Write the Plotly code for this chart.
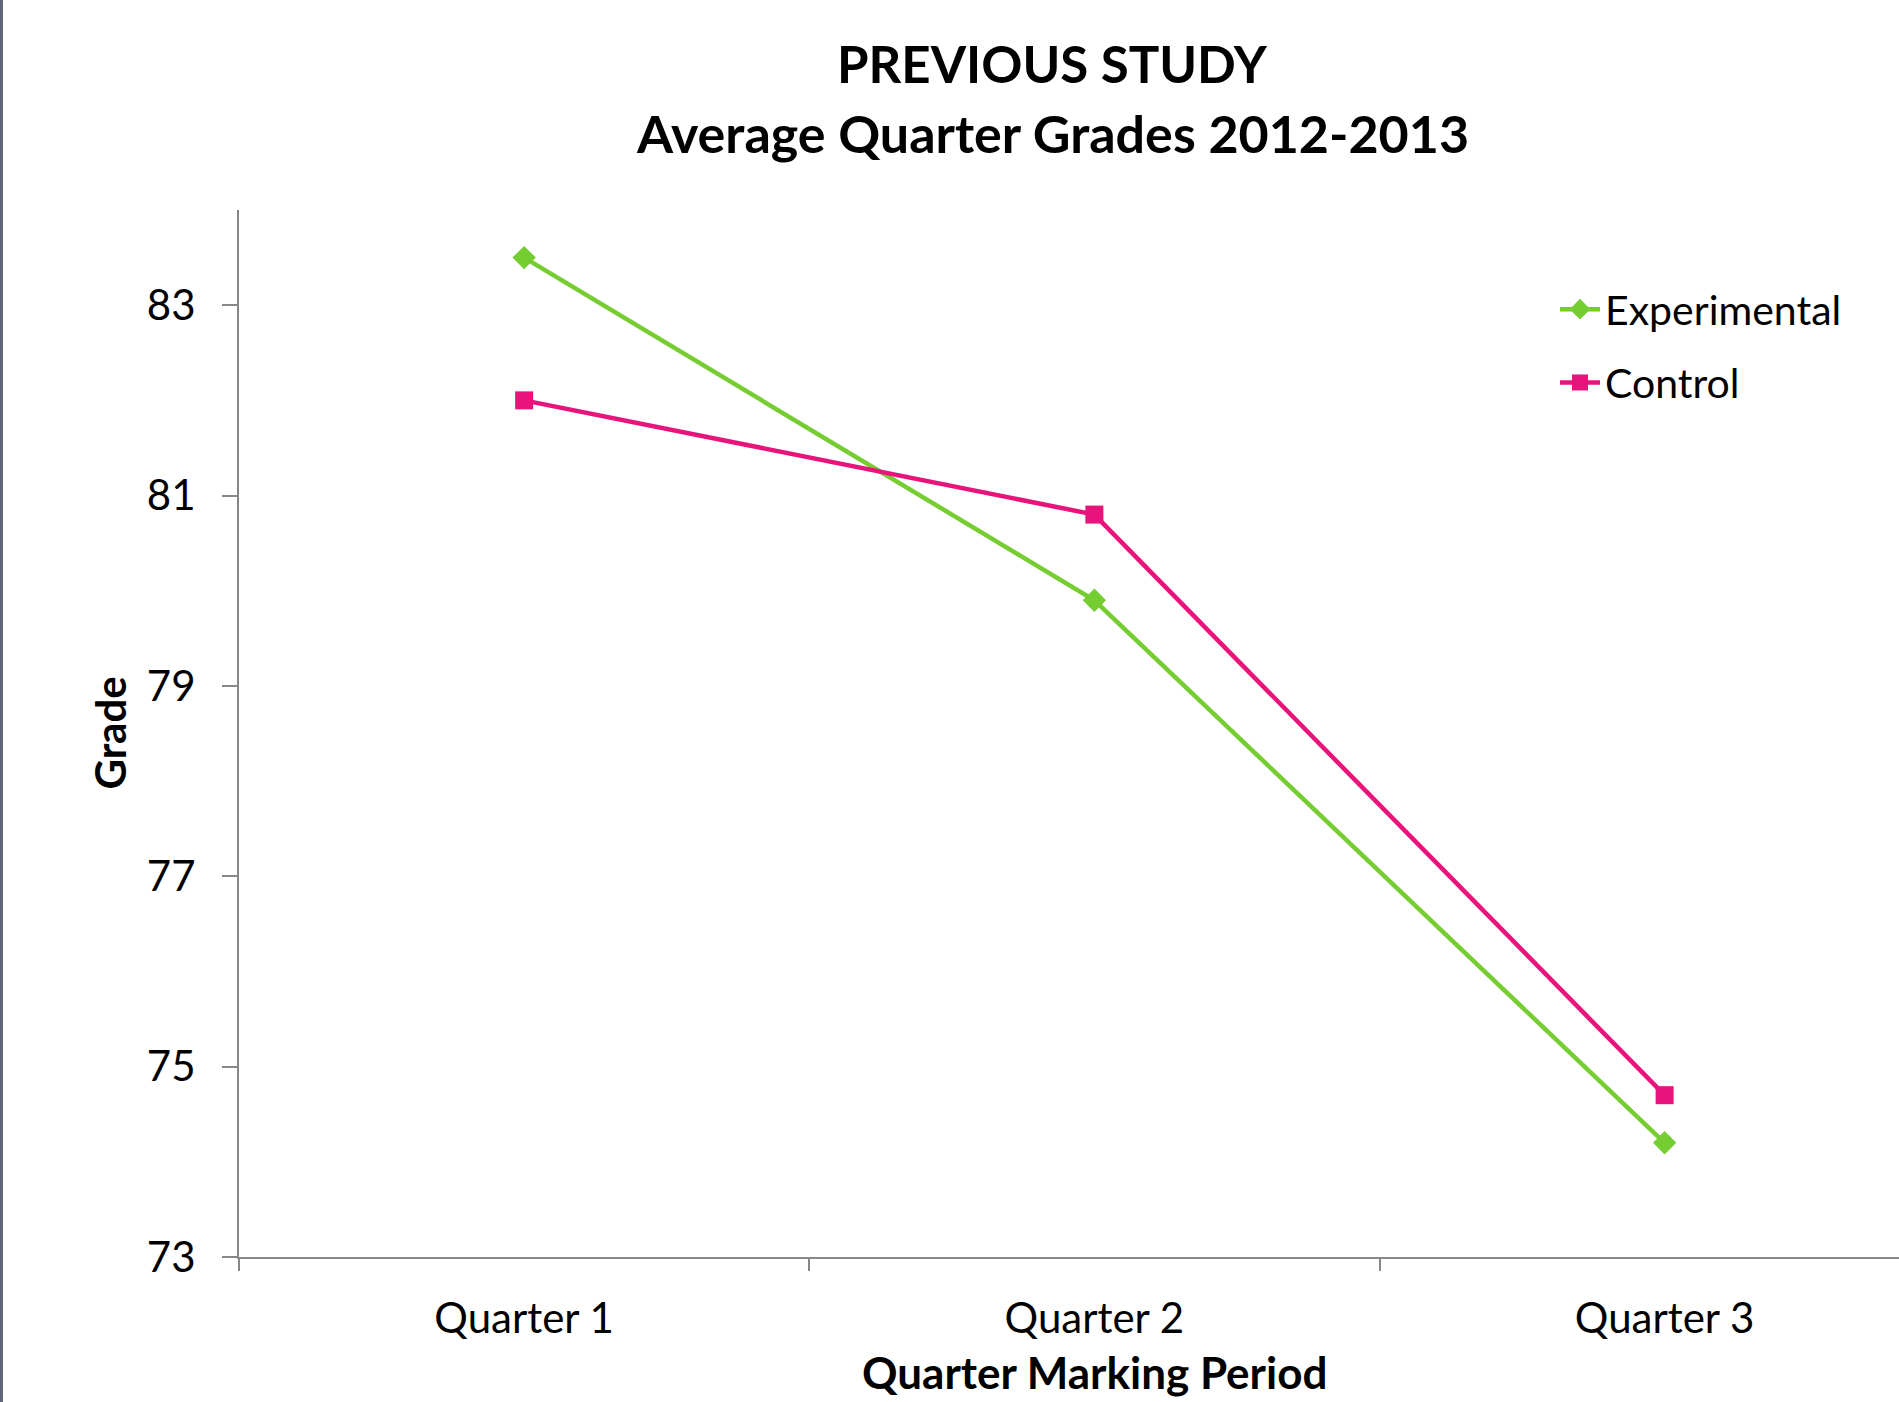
import plotly.graph_objects as go

# Average quarter grades, 2012-2013
quarters = ["Quarter 1", "Quarter 2", "Quarter 3"]
experimental = [83.5, 79.9, 74.2]
control = [82.0, 80.8, 74.7]
y_ticks = [73, 75, 77, 79, 81, 83]

GREEN = "#76CD32"
PINK = "#E8137B"
AXIS = "#878787"
FONT = "Lato"

W, H = 1899, 1402
ML, MR, MT, MB = 239, 0, 210, 145
PW, PH = W - ML - MR, H - MT - MB

fig = go.Figure()
fig.add_trace(go.Scatter(
    x=quarters, y=experimental, name="Experimental", mode="lines+markers",
    line=dict(color=GREEN, width=4.5),
    marker=dict(symbol="diamond", size=18, color=GREEN, line=dict(width=0)),
    legendgroup="e",
))
fig.add_trace(go.Scatter(
    x=quarters, y=control, name="Control", mode="lines+markers",
    line=dict(color=PINK, width=4.5),
    marker=dict(symbol="square", size=18, color=PINK, line=dict(width=0)),
    legendgroup="c",
))

def px_x(px):
    return (px - ML) / PW

def px_y(py):
    return (H - MB - py) / PH

annotations = [
    dict(text="<b>PREVIOUS STUDY</b>", xref="paper", yref="paper",
         x=px_x(1052), y=px_y(64), xanchor="center", yanchor="middle",
         showarrow=False, font=dict(family=FONT, size=51, color="black")),
    dict(text="<b>Average Quarter Grades 2012-2013</b>", xref="paper", yref="paper",
         x=px_x(1052), y=px_y(133), xanchor="center", yanchor="middle",
         showarrow=False, font=dict(family=FONT, size=52, color="black")),
    dict(text="<b>Grade</b>", xref="paper", yref="paper",
         x=px_x(109), y=0.5, xanchor="center", yanchor="middle", textangle=-90,
         showarrow=False, font=dict(family=FONT, size=42, color="black")),
    dict(text="<b>Quarter Marking Period</b>", xref="x", yref="paper",
         x=1, y=px_y(1372), xanchor="center", yanchor="middle",
         showarrow=False, font=dict(family=FONT, size=44, color="black")),
]

fig.update_layout(
    width=W, height=H,
    margin=dict(l=ML, r=MR, t=MT, b=MB, pad=0),
    paper_bgcolor="white", plot_bgcolor="white",
    font=dict(family=FONT, size=42, color="black"),
    showlegend=True,
    legend=dict(x=px_x(1555), y=px_y(276), xanchor="left", yanchor="top",
                font=dict(family=FONT, size=41, color="black"),
                bgcolor="rgba(0,0,0,0)", tracegroupgap=17, itemwidth=40),
    annotations=annotations,
    shapes=[dict(type="line", xref="paper", yref="paper",
                 x0=px_x(1.5), x1=px_x(1.5), y0=px_y(0), y1=px_y(H),
                 line=dict(color="#5E6879", width=3))],
)

fig.update_xaxes(
    type="category", range=[-0.5, 2.411],
    showline=True, linecolor=AXIS, linewidth=2,
    ticks="outside", tickson="boundaries", ticklen=12, tickcolor=AXIS, tickwidth=2,
    showgrid=False, zeroline=False,
    tickfont=dict(family=FONT, size=42, color="black"),
    ticklabelstandoff=24,
)
fig.update_yaxes(
    range=[73, 84], tickvals=y_ticks,
    showline=True, linecolor=AXIS, linewidth=2,
    ticks="outside", ticklen=15, tickcolor=AXIS, tickwidth=2,
    showgrid=False, zeroline=False,
    tickfont=dict(family=FONT, size=42, color="black"),
    ticklabelstandoff=18,
)

fig.write_html("out.html")
